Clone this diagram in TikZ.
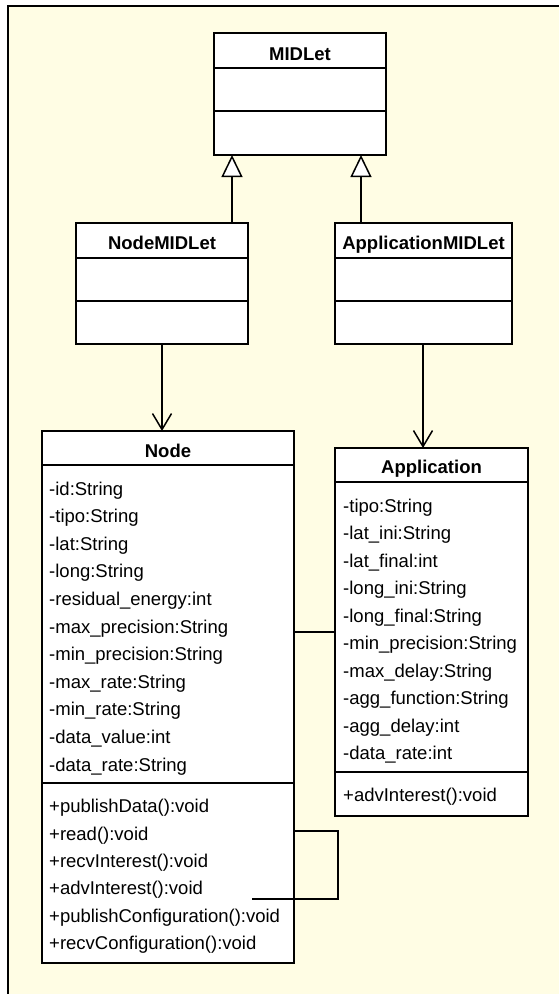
\documentclass[tikz,border=0pt]{standalone}
\usepackage{fontspec}
\setmainfont{Liberation Sans}
\usetikzlibrary{arrows.meta}
\definecolor{bgc}{RGB}{255,253,228}
\begin{document}
\begin{tikzpicture}[x=1pt,y=-1pt,
  classbox/.style={draw, line width=1.6pt, fill=white, inner sep=0pt, outer sep=0pt, anchor=north west},
  divider/.style={line width=1.6pt},
  ctitle/.style={font=\fontsize{18.5}{20}\selectfont\bfseries, anchor=base, inner sep=0pt},
  member/.style={font=\fontsize{18.5}{20}\selectfont, anchor=base west, inner sep=0pt},
  gen/.style={line width=1.5pt, -{Triangle[length=22pt,width=21pt,fill=white,line width=1.5pt]}},
  assoc/.style={line width=1.5pt, -{Straight Barb[length=16pt,width=19pt,line width=1.5pt]}},
  link/.style={line width=1.5pt},
  frame/.style={line width=2pt}]
\useasboundingbox (0,0) rectangle (559,994);
\fill[white] (0,0) rectangle (559,994);
\fill[bgc] (8,6) rectangle (559,994);
\draw[frame] (559,6) -- (8,6) -- (8,994);

% class boxes
\node[classbox, minimum width=172pt, minimum height=122pt] (MIDLet) at (214,33) {};
\node[classbox, minimum width=172pt, minimum height=121pt] (NodeMIDLet) at (76,223) {};
\node[classbox, minimum width=177pt, minimum height=121pt] (AppMIDLet) at (335,223) {};
\node[classbox, minimum width=252pt, minimum height=532pt] (Node) at (42,431) {};
\node[classbox, minimum width=193pt, minimum height=368pt] (App) at (335,448) {};

% dividers
\foreach \b in {MIDLet,NodeMIDLet,AppMIDLet}{
  \draw[divider] ([yshift=-35pt]\b.north west) -- ([yshift=-35pt]\b.north east);
  \draw[divider] ([yshift=-78pt]\b.north west) -- ([yshift=-78pt]\b.north east);
}
\draw[divider] ([yshift=-34pt]Node.north west) -- ([yshift=-34pt]Node.north east);
\draw[divider] ([yshift=-352pt]Node.north west) -- ([yshift=-352pt]Node.north east);
\draw[divider] ([yshift=-34pt]App.north west) -- ([yshift=-34pt]App.north east);
\draw[divider] ([yshift=-324pt]App.north west) -- ([yshift=-324pt]App.north east);

% titles
\node[ctitle] (tMIDLet) at ([yshift=-27pt]MIDLet.north) {MIDLet};
\node[ctitle] (tNodeMIDLet) at ([yshift=-26pt]NodeMIDLet.north) {NodeMIDLet};
\node[ctitle] (tAppMIDLet) at ([yshift=-26pt]AppMIDLet.north) {ApplicationMIDLet};
\node[ctitle] (tNode) at ([yshift=-26pt]Node.north) {Node};
\node[ctitle] (tApp) at ([yshift=-25.5pt]App.north) {Application};

% Node members
\foreach \t [count=\k from 0] in {-id:String,-tipo:String,-lat:String,-long:String,-residual\_energy:int,-max\_precision:String,-min\_precision:String,-max\_rate:String,-min\_rate:String,-data\_value:int,-data\_rate:String}{
  \node[member] (na\k) at ([xshift=7pt,yshift={-64pt-27.6pt*\k}]Node.north west) {\t};
}
\foreach \t [count=\k from 0] in {+publishData():void,+read():void,+recvInterest():void,+advInterest():void,+publishConfiguration():void,+recvConfiguration():void}{
  \node[member] (no\k) at ([xshift=7pt,yshift={-381.7pt-27.4pt*\k}]Node.north west) {\t};
}
% Application members
\foreach \t [count=\k from 0] in {-tipo:String,-lat\_ini:String,-lat\_final:int,-long\_ini:String,-long\_final:String,-min\_precision:String,-max\_delay:String,-agg\_function:String,-agg\_delay:int,-data\_rate:int}{
  \node[member] (aa\k) at ([xshift=8pt,yshift={-64.3pt-27.5pt*\k}]App.north west) {\t};
}
\node[member] (ao0) at ([xshift=8pt,yshift=-353.7pt]App.north west) {+advInterest():void};

% generalizations
\coordinate (g1) at (232,0);
\coordinate (g2) at (361,0);
\draw[gen] (NodeMIDLet.north -| g1) -- (MIDLet.south -| g1);
\draw[gen] (AppMIDLet.north -| g2) -- (MIDLet.south -| g2);

% navigable associations
\coordinate (a1) at (162,0);
\coordinate (a2) at (423,0);
\draw[assoc] (NodeMIDLet.south -| a1) -- (Node.north -| a1);
\draw[assoc] (AppMIDLet.south -| a2) -- (App.north -| a2);

% association Node -- Application
\coordinate (ay) at (0,632);
\draw[link] (Node.east |- ay) -- (App.west |- ay);

% self association on Node
\coordinate (s1) at (338,831);
\coordinate (s2) at (252,899);
\draw[link] (Node.east |- s1) -- (s1) -- (s1 |- s2) -- (s2);
\end{tikzpicture}
\end{document}
